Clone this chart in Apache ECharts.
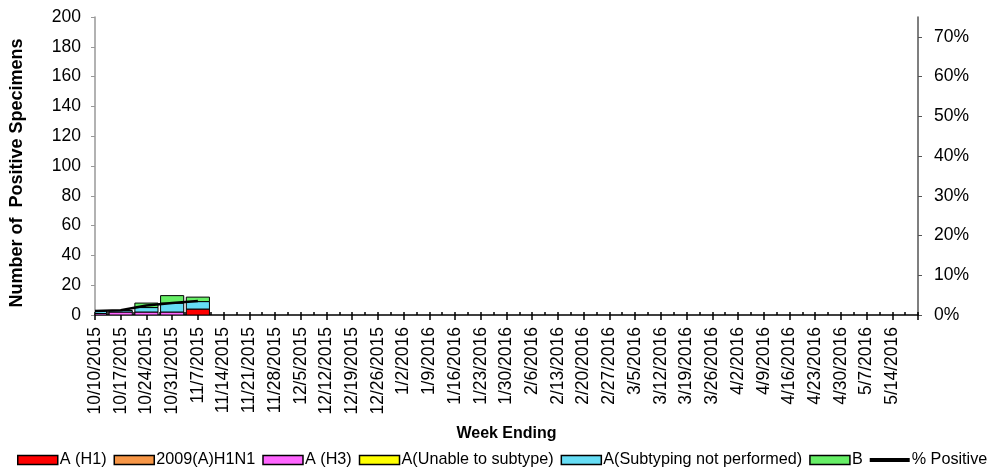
<!DOCTYPE html>
<html>
<head>
<meta charset="utf-8">
<script src="https://cdn.jsdelivr.net/npm/echarts@6/dist/echarts.min.js"></script>
<style>
html,body{margin:0;padding:0;background:#fff;}
#chart{width:990px;height:472px;}
</style>
</head>
<body>
<div id="chart"></div>
<script>
// ---- data ----
var weeks = ['10/10/2015','10/17/2015','10/24/2015','10/31/2015','11/7/2015','11/14/2015','11/21/2015','11/28/2015',
  '12/5/2015','12/12/2015','12/19/2015','12/26/2015','1/2/2016','1/9/2016','1/16/2016','1/23/2016','1/30/2016',
  '2/6/2016','2/13/2016','2/20/2016','2/27/2016','3/5/2016','3/12/2016','3/19/2016','3/26/2016','4/2/2016',
  '4/9/2016','4/16/2016','4/23/2016','4/30/2016','5/7/2016','5/14/2016',''];
var aH1        = [0,0,0,0,4];
var h1n1_2009  = [0,0,0,0,0];
var aH3        = [1,2,2,2,0];
var aUnable    = [0,0,0,0,0];
var aNotPerf   = [2,1,3,6,5];
var typeB      = [0,0,3,5,3];
var pctPositive = [1.0,1.2,2.4,3.0,3.5];
var leftTicks = {min:0, max:200, interval:20};
var rightTicks = {min:0, max:75, interval:10};

var seriesDefs = [
  {name: 'A (H1)', values: aH1, color: '#ff0000'},
  {name: '2009(A)H1N1', values: h1n1_2009, color: '#f79646'},
  {name: 'A (H3)', values: aH3, color: '#ff66ff'},
  {name: 'A(Unable to subtype)', values: aUnable, color: '#ffff00'},
  {name: 'A(Subtyping not performed)', values: aNotPerf, color: '#66ddf5'},
  {name: 'B', values: typeB, color: '#66ee66'}
];

function pad(arr){ var out = arr.slice(); while(out.length < weeks.length) out.push(null); return out; }

var FONT = 'Liberation Sans, Arial, sans-serif';
var chart = echarts.init(document.getElementById('chart'), null, {renderer:'canvas'});

// stacked bars centred on tick marks, clipped to the plot area
var cumulative = [];
function makeBarSeries(def){
  var data = [];
  for (var i = 0; i < def.values.length; i++){
    var base = cumulative[i] || 0;
    var v = def.values[i] || 0;
    data.push([i, base, base + v]);
    cumulative[i] = base + v;
  }
  return {
    name: def.name, type: 'custom', data: data, clip: true,
    itemStyle: {color: def.color},
    encode: {x: 0, y: [1, 2]},
    renderItem: function(params, api){
      var x = api.value(0), lo = api.value(1), hi = api.value(2);
      if (!(hi > lo)) return null;
      var cs = params.coordSys;
      var p0 = api.coord([x, lo]);
      var p1 = api.coord([x, hi]);
      var band = cs.width / (weeks.length - 1);
      var bw = band * 0.9;
      var rect = {x: p0[0] - bw / 2, y: p1[1], width: bw, height: p0[1] - p1[1]};
      var clipped = echarts.graphic.clipRectByRect(rect, {x: cs.x, y: cs.y, width: cs.width, height: cs.height});
      if (!clipped) return null;
      return {type: 'rect', shape: clipped, style: {fill: def.color, stroke: '#000', lineWidth: 1}};
    }
  };
}
var barSeries = seriesDefs.map(makeBarSeries);

var halfTicks = [];
for (var i = 0; i < (weeks.length - 1) * 2 + 1; i++) halfTicks.push(String(i));

var legendData = seriesDefs.map(function(d){
  return {name: d.name, icon: 'rect', itemStyle: {color: d.color, borderColor: '#000', borderWidth: 1.5}};
});
legendData.push({name: '% Positive', icon: 'path://M0,0 H40 V4 H0 Z', itemStyle: {color: '#000', borderWidth: 0}});

var option = {
  animation: false,
  textStyle: {fontFamily: FONT, color: '#000'},
  grid: {left: 95, right: 72, top: 17, bottom: 157, containLabel: false},
  legend: {
    left: 17, top: 452, width: 973, padding: 0, itemWidth: 40, itemHeight: 9, itemGap: 7,
    textStyle: {fontFamily: FONT, fontSize: 16.2, color: '#000', padding: [0,0,0,-3]},
    data: legendData
  },
  xAxis: [{
    type: 'category', data: weeks, boundaryGap: false,
    name: 'Week Ending', nameLocation: 'middle', nameGap: 111,
    nameTextStyle: {fontFamily: FONT, fontSize: 16, fontWeight: 'bold', color: '#000'},
    axisLine: {lineStyle: {color: '#000', width: 1.5}},
    axisTick: {show: true, interval: 0, length: 5, lineStyle: {color: '#000', width: 1.5}},
    axisLabel: {interval: 0, rotate: 90, fontSize: 17.5, color: '#000', fontFamily: FONT, margin: 12}
  },{
    type: 'category', data: halfTicks, boundaryGap: false, position: 'bottom',
    axisLine: {show: false},
    axisTick: {show: true, inside: true, interval: 0, length: 3, lineStyle: {color: '#000', width: 1.5}},
    axisLabel: {show: false}
  }],
  yAxis: [{
    type: 'value', min: leftTicks.min, max: leftTicks.max, interval: leftTicks.interval,
    name: 'Number of  Positive Specimens', nameLocation: 'middle', nameGap: 69,
    nameTextStyle: {fontFamily: FONT, fontSize: 18, fontWeight: 'bold', color: '#000', padding: [0, 14, 0, 0]},
    axisLine: {show: true, lineStyle: {color: '#999', width: 1.5}},
    axisTick: {show: true, length: 4, lineStyle: {color: '#999'}},
    axisLabel: {fontSize: 17.5, color: '#000', fontFamily: FONT, margin: 14},
    splitLine: {show: false}
  },{
    type: 'value', position: 'right', min: rightTicks.min, max: rightTicks.max, interval: rightTicks.interval,
    axisLine: {show: true, lineStyle: {color: '#555', width: 1.5}},
    axisTick: {show: true, length: 4, lineStyle: {color: '#555'}},
    axisLabel: {fontSize: 17.5, color: '#000', fontFamily: FONT, margin: 16, showMaxLabel: false,
      formatter: function(v){ return v > 72 ? '' : v + '%'; }},
    splitLine: {show: false}
  }],
  series: barSeries.concat([{
    name: '% Positive', type: 'line', yAxisIndex: 1, data: pad(pctPositive),
    symbol: 'none', connectNulls: false, z: 3,
    lineStyle: {color: '#000', width: 2.5}, itemStyle: {color: '#000'},
    emphasis: {disabled: true}
  }])
};
chart.setOption(option);
</script>
</body>
</html>
